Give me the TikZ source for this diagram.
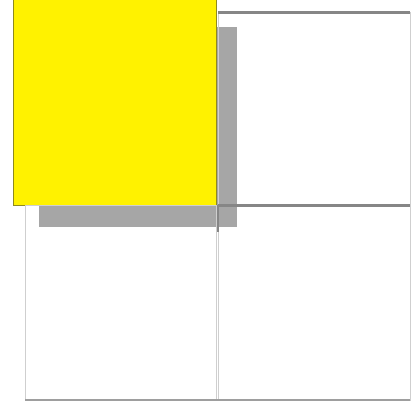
\documentclass[tikz,border=0pt]{standalone}
\usetikzlibrary{shadows}
\definecolor{cyellow}{HTML}{FFF200}
\definecolor{colive}{HTML}{8F8A1E}
\definecolor{cshadow}{HTML}{A6A6A6}
\definecolor{cgrey}{HTML}{868686}
\definecolor{clight}{HTML}{CFCFCF}
\tikzset{
  every picture/.style={line width=1pt},
  cell/.style={draw=clight, rectangle, inner sep=0pt, outer sep=0pt, minimum width=192pt, minimum height=193pt},
  hilite/.style={cell, draw=colive, fill=cyellow, minimum width=203pt, minimum height=205pt,
    drop shadow={shadow xshift=24.5pt, shadow yshift=-25.5pt, shadow scale=0.975, fill=cshadow, opacity=1}},
  edge/.style={draw=cgrey, line width=2.2pt},
}
\begin{document}
\begin{tikzpicture}[x=1pt, y=-1pt]
  \useasboundingbox (0,0) rectangle (415,401);
  \node[hilite] (hl) at (114.5,102.5) {};
  \node[cell] (tr) at (314,109) {};
  \node[cell, minimum width=191pt, minimum height=195pt] (bl) at (120.5,302.5) {};
  \node[cell, minimum height=195pt] (br) at (314,302.5) {};
  \draw[edge] (tr.north west) -- (tr.north east);
  \draw[edge] (tr.south west) -- (tr.south east);
  \draw[draw=cgrey, line width=1.4pt] (br.north west) -- +(0,27);
  \draw[draw=cgrey!80, line width=1.4pt] (bl.south west) -- (br.south east);
\end{tikzpicture}
\end{document}
